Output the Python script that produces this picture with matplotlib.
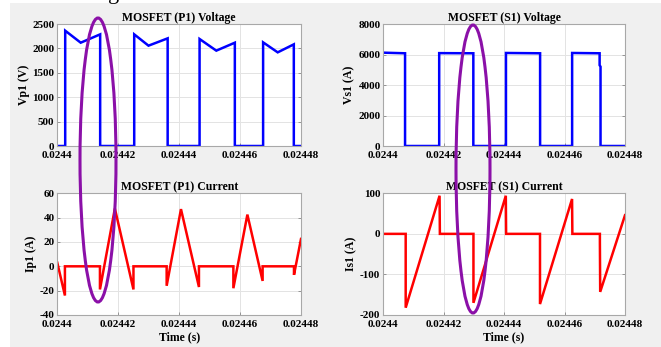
import matplotlib
matplotlib.use("Agg")
import matplotlib.pyplot as plt
from matplotlib.patches import Ellipse

T0 = 0.0244
# Time points in microseconds after 0.0244 s
t_vp1_us = [0, 2.6, 2.6, 7.7, 14.1, 14.1, 25.3, 25.3, 30.0, 36.3, 36.3, 46.8, 46.8,
            52.3, 58.4, 58.4, 67.7, 67.7, 72.5, 77.8, 77.8, 80]
vp1 = [0, 0, 2363, 2117, 2288, 0, 0, 2288, 2056, 2206, 0, 0, 2193,
       1954, 2117, 0, 0, 2124, 1919, 2083, 0, 0]

t_vs1_us = [0, 7.2, 7.2, 18.5, 18.5, 29.8, 29.8, 40.6, 40.6, 51.9, 51.9, 62.5, 62.5,
            71.6, 71.6, 71.9, 71.9, 80]
vs1 = [6120, 6080, 0, 0, 6090, 6080, 0, 0, 6100, 6080, 0, 0, 6100,
       6080, 5300, 5200, 0, 0]

t_ip1_us = [0, 2.5, 2.5, 14.0, 14.0, 18.9, 25.0, 25.0, 35.9, 35.9, 40.6, 46.5, 46.5,
            57.8, 57.8, 62.4, 67.4, 67.4, 77.7, 77.7, 80]
ip1 = [3, -24, 0, 0, -19, 47.5, -19, 0, 0, -16, 47, -17, 0,
       0, -18, 42.5, -12, 0, 0, -7, 22.5]

t_is1_us = [0, 7.5, 7.5, 18.7, 18.8, 29.9, 29.9, 40.6, 40.7, 51.9, 51.9, 62.5, 62.6,
            71.7, 71.7, 71.8, 80]
is1 = [0, 0, -182, 94, 0, 0, -170, 94, 0, 0, -173, 86, 0,
       0, -20, -143, 46]

xticks = [0.0244, 0.02442, 0.02444, 0.02446, 0.02448]
xticklabels = ["0.0244", "0.02442", "0.02444", "0.02446", "0.02448"]

plt.rcParams['font.family'] = ['Liberation Serif', 'DejaVu Serif']
plt.rcParams['font.weight'] = 'bold'
plt.rcParams['axes.unicode_minus'] = False

fig = plt.figure(figsize=(6.61, 3.47), dpi=100)
fig.patch.set_facecolor('white')
# gray figure area
fig.patches.append(plt.Rectangle((10/661, 0), 1, 1 - 3/347, transform=fig.transFigure,
                                 facecolor='#f0f0f0', edgecolor='none', zorder=-10))
fig.text(108/661, 1 + 1.5/347, "g", fontsize=16, ha='left', va='baseline', color='black',
         fontweight='normal')

W, H = 661, 347
def ax_at(l, r, top, bot):
    return fig.add_axes([l / W, 1 - bot / H, (r - l) / W, (bot - top) / H])

panels = [
    (ax_at(57.3, 300.5, 24, 146), t_vp1_us, vp1, 'blue', "MOSFET (P1) Voltage", "Vp1 (V)",
     (0, 2500), [0, 500, 1000, 1500, 2000, 2500], None),
    (ax_at(383.3, 625, 24, 146), t_vs1_us, vs1, 'blue', "MOSFET (S1) Voltage", "Vs1 (A)",
     (0, 8000), [0, 2000, 4000, 6000, 8000], None),
    (ax_at(57.3, 301, 193.3, 315), t_ip1_us, ip1, 'red', "MOSFET (P1) Current", "Ip1 (A)",
     (-40, 60), [-40, -20, 0, 20, 40, 60], "Time (s)"),
    (ax_at(383, 625, 193.3, 315), t_is1_us, is1, 'red', "MOSFET (S1) Current", "Is1 (A)",
     (-200, 100), [-200, -100, 0, 100], "Time (s)"),
]

for ax, tus, vals, col, title, ylab, ylim, yt, xlab in panels:
    t = [T0 + v * 1e-6 for v in tus]
    ax.plot(t, vals, color=col, lw=1.8, solid_joinstyle='miter')
    ax.set_xlim(0.0244, 0.02448)
    ax.set_ylim(*ylim)
    ax.set_yticks(yt)
    ax.set_xticks(xticks)
    ax.set_xticklabels(xticklabels)
    ax.grid(True, color='#e3e3e3', lw=0.7)
    ax.set_axisbelow(True)
    ax.tick_params(direction='in', length=2.5, width=0.6, color='#888888',
                   labelsize=8, top=False, right=True)
    ax.tick_params(axis='x', pad=3.5)
    ax.tick_params(axis='y', pad=2.0)
    for lab in ax.get_xticklabels() + ax.get_yticklabels():
        lab.set_fontweight('bold')
    for s in ax.spines.values():
        s.set_color('#a8a8a8')
        s.set_linewidth(0.8)
    ax.set_title(title, fontsize=8.5, fontweight='bold', pad=2)
    ax.set_ylabel(ylab, fontsize=8.5, fontweight='bold', labelpad=2)
    if xlab:
        ax.set_xlabel(xlab, fontsize=8.5, fontweight='bold', labelpad=1.5)

# purple annotation ellipses
for cx, cy, w, h in [(98, 160, 36, 284), (473, 169, 34, 288)]:
    e = Ellipse((cx / W, 1 - cy / H), w / W, h / H, transform=fig.transFigure,
                fill=False, edgecolor='#8b10a8', lw=2.2, zorder=20)
    fig.patches.append(e)

fig.savefig("out.png", dpi=100)
